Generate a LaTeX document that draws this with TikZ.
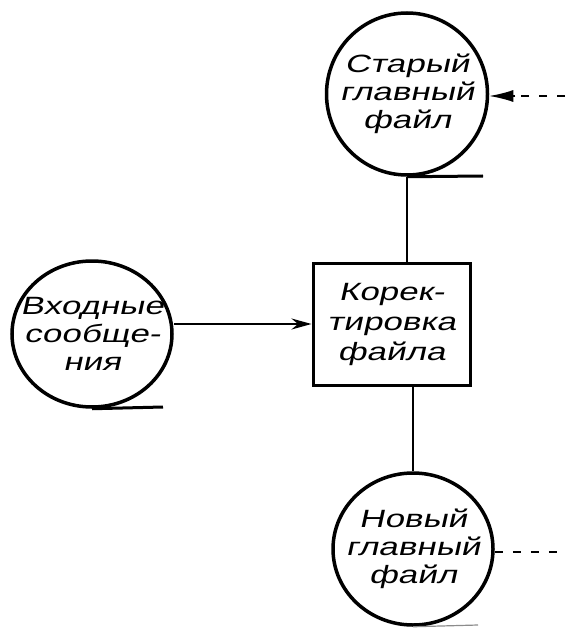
\documentclass[tikz,border=0pt]{standalone}
\usepackage{fontspec}
\setmainfont{Liberation Sans}[FakeStretch=1.4,FakeSlant=0.22]
\usetikzlibrary{shapes.geometric,arrows.meta}
\begin{document}
\begin{tikzpicture}[x=1pt,y=-1pt,
  store/.style={draw,ellipse,line width=3.5pt,inner xsep=-30pt,inner ysep=-10pt,align=center,
    font=\fontsize{25}{28}\selectfont},
  procbox/.style={draw,rectangle,line width=3pt,inner sep=0pt,align=center,
    font=\fontsize{25}{30}\selectfont},
  flow/.style={line width=2pt},
  tail/.style={line width=3pt},
  extline/.style={line width=1.5pt,dash pattern=on 8pt off 10pt}]
\useasboundingbox (0,0) rectangle (565,628);
\node[store,minimum width=161pt,minimum height=162pt] (old) at (407,94)
  {Старый\\главный\\файл};
\node[store,minimum width=160pt,minimum height=146pt] (inp) at (92,334)
  {Входные\\сообще-\\ния};
\node[procbox,minimum width=157pt,minimum height=122pt] (upd) at (391.5,324)
  {Корек-\\тировка\\файла};
\node[store,minimum width=160pt,minimum height=152pt] (new) at (413,549)
  {Новый\\главный\\файл};
\coordinate (oldtail) at (483,176);
\coordinate (inptail) at (163,407);
\coordinate (newtail) at (478,625);
\coordinate (oldext) at (565,96);
\coordinate (newext) at (565,552);
\draw[tail] (old.south) -- (oldtail);
\draw[tail] (inp.south) -- (inptail);
\draw[line width=1.2pt,black!45] (new.south) -- (newtail);
\draw[flow] (old.south) -- (old.south |- upd.north);
\draw[flow] (upd.south -| new.north) -- (new.north);
\draw[flow,-{Stealth[length=20pt,width=11pt]}] (inp.east |- upd.west) -- (upd.west);
\draw[extline] (oldext) -- ([xshift=30pt]old.east |- oldext);
\draw[line width=1.5pt,-{Latex[length=24pt,width=12pt]}] ([xshift=26pt]old.east |- oldext) -- (old.east |- oldext);
\draw[extline] (new.east |- newext) -- (newext);
\end{tikzpicture}
\end{document}
